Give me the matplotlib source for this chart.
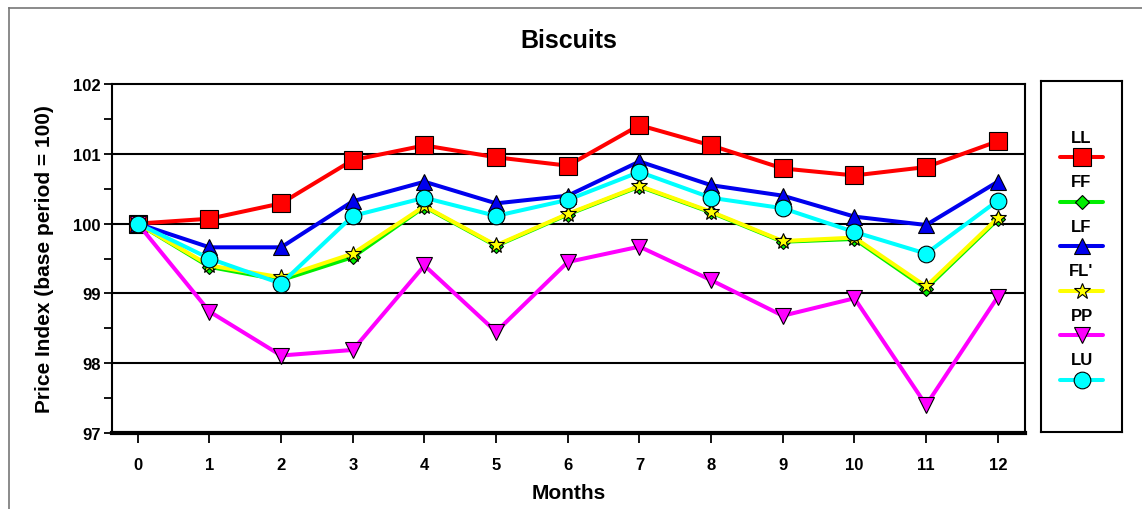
import numpy as np
import matplotlib
matplotlib.use("Agg")
import matplotlib.pyplot as plt
from matplotlib.lines import Line2D

plt.rcParams['font.family'] = ['Liberation Sans', 'DejaVu Sans']
plt.rcParams['font.weight'] = 'bold'

# data
months = list(range(13))
series_names = ["LL", "FF", "LF", "FL'", "PP", "LU"]
ll = [100.00, 100.07, 100.29, 100.91, 101.12, 100.95, 100.83, 101.41, 101.12, 100.79, 100.69, 100.81, 101.18]
ff = [100.00, 99.38, 99.19, 99.52, 100.24, 99.68, 100.13, 100.53, 100.16, 99.74, 99.78, 99.07, 100.06]
lf = [100.00, 99.66, 99.66, 100.32, 100.60, 100.29, 100.40, 100.89, 100.55, 100.40, 100.10, 99.98, 100.60]
fl = [100.00, 99.40, 99.23, 99.57, 100.25, 99.69, 100.14, 100.54, 100.17, 99.75, 99.80, 99.10, 100.08]
pp = [100.00, 98.74, 98.11, 98.19, 99.40, 98.45, 99.45, 99.67, 99.19, 98.68, 98.93, 97.40, 98.95]
lu = [100.00, 99.50, 99.14, 100.11, 100.37, 100.11, 100.34, 100.74, 100.37, 100.22, 99.88, 99.57, 100.33]
all_values = [ll, ff, lf, fl, pp, lu]

# styles: colour, marker, markersize
styles = [
    ("#ff0000", "s", 13),
    ("#00ee00", "D", 7),
    ("#0000ee", "^", 12),
    ("#ffff00", "*", 12),
    ("#ff00ff", "v", 12),
    ("#00ffff", "o", 12),
]

fig = plt.figure(figsize=(11.42, 5.1), dpi=100)
ax = fig.add_axes([112 / 1142, 76 / 510, 913 / 1142, 349 / 510])

for vals, (c, m, ms) in zip(all_values, styles):
    ax.plot(months, vals, color=c, lw=2.9, marker=m, markersize=ms,
            markerfacecolor=c, markeredgecolor="black", markeredgewidth=0.8,
            solid_joinstyle="round", zorder=3)

ax.set_xlim(-0.36, 12.38)
ax.set_ylim(97, 102)
ax.set_xticks(months)
ax.set_yticks([97, 98, 99, 100, 101, 102])
ax.set_yticks(np.arange(97.5, 102, 1.0), minor=True)
for yv in [98, 99, 100, 101]:
    ax.axhline(yv, color="black", lw=1.5, zorder=1)

ax.tick_params(axis="y", direction="out", length=6, width=1.3, pad=2, labelsize=12)
ax.tick_params(axis="y", which="minor", direction="out", length=6, width=1.3)
ax.tick_params(axis="x", direction="out", length=7, width=1.3, pad=10, labelsize=12)
for lab in ax.get_xticklabels() + ax.get_yticklabels():
    lab.set_fontweight("bold")

for side in ["top", "right", "left"]:
    ax.spines[side].set_linewidth(1.5)
ax.spines["bottom"].set_linewidth(3)

ax.set_title("Biscuits", fontsize=18, fontweight="bold", pad=27)
ax.set_xlabel("Months", fontsize=15, fontweight="bold", labelpad=8)
ax.set_ylabel("Price Index (base period = 100)", fontsize=15, fontweight="bold", labelpad=14)

# legend box with the label above each line sample
lax = fig.add_axes([1041 / 1142, 77 / 510, 81 / 1142, 351 / 510])
lax.set_xlim(0, 1)
lax.set_ylim(0, 1)
lax.set_xticks([])
lax.set_yticks([])
for sp in lax.spines.values():
    sp.set_linewidth(1.5)
step = 44.5 / 351
for i, (name, (c, m, ms)) in enumerate(zip(series_names, styles)):
    ty = 0.840 - i * step
    ly = 0.783 - i * step
    lax.text(0.5, ty, name, ha="center", va="center", fontsize=12, fontweight="bold")
    lax.plot([0.235, 0.765], [ly, ly], color=c, lw=2.9, solid_capstyle="round")
    lax.plot([0.5], [ly], marker=m, markersize=ms, color=c,
             markeredgecolor="black", markeredgewidth=0.8)

# outer frame lines (top and left)
fig.add_artist(Line2D([9 / 1142, 1], [1 - 8.5 / 510, 1 - 8.5 / 510], color="#777777", lw=1.2))
fig.add_artist(Line2D([9 / 1142, 9 / 1142], [0, 1 - 8.5 / 510], color="#777777", lw=1.2))

fig.savefig("out.png", dpi=100)
